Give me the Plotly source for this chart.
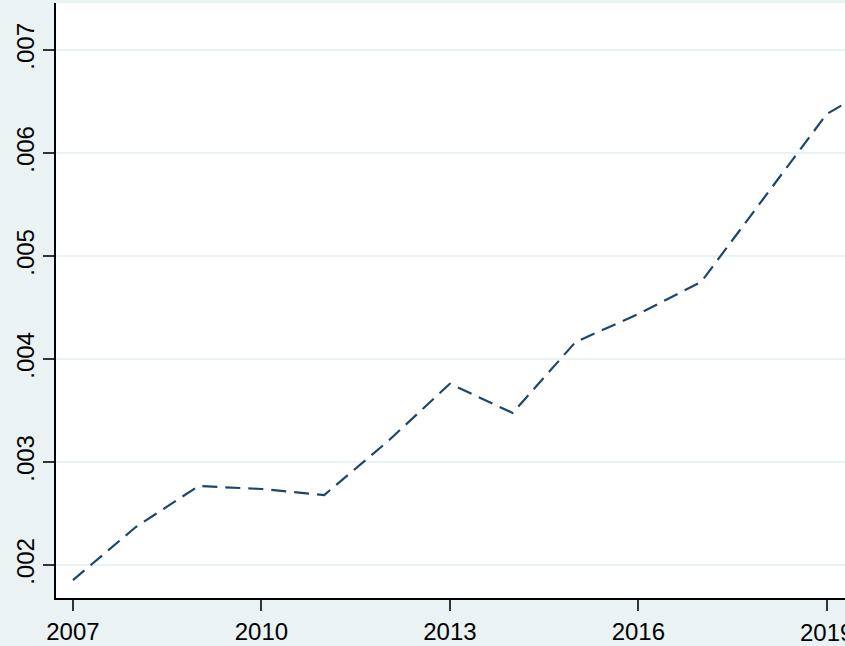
import plotly.graph_objects as go

years = [2007, 2008, 2009, 2010, 2011, 2012, 2013, 2014, 2015, 2016, 2017, 2018, 2019, 2020]
values = [0.001854, 0.002369, 0.002767, 0.002738, 0.00268, 0.003194, 0.00376,
          0.003476, 0.004165, 0.004437, 0.004748, 0.005563, 0.006379, 0.00673]

x_ticks = [2007, 2010, 2013, 2016, 2019]
y_ticks = [0.002, 0.003, 0.004, 0.005, 0.006, 0.007]
y_labels = [".002", ".003", ".004", ".005", ".006", ".007"]

bg = "#eaf2f3"
fig = go.Figure()
fig.add_trace(go.Scatter(x=years, y=values, mode="lines",
                         line=dict(color="#1a476f", width=2.2, dash="15px,8px"),
                         showlegend=False))
fig.update_layout(
    width=845, height=646,
    margin=dict(l=56, r=0, t=3, b=48),
    paper_bgcolor=bg, plot_bgcolor="white",
    font=dict(family="Liberation Sans, Arial", size=24, color="black"),
)
fig.update_xaxes(range=[2006.73, 2019.29], tickvals=x_ticks, ticktext=[str(t) for t in x_ticks],
                 showgrid=False, zeroline=False, showline=True, linecolor="black", linewidth=1.5,
                 ticks="outside", ticklen=11, tickwidth=1.5, tickcolor="#333333")
fig.update_yaxes(range=[0.00168, 0.007456], tickvals=y_ticks, ticktext=y_labels, tickangle=-90,
                 showgrid=True, gridcolor=bg, gridwidth=1.5, zeroline=False,
                 showline=True, linecolor="black", linewidth=1.5,
                 ticks="outside", ticklen=11, tickwidth=1.5, tickcolor="#333333")
# last tick label overflows the right edge (plotly drops it), draw it as an annotation
fig.add_annotation(x=x_ticks[-1], xref="x", y=0, yref="paper", text=str(x_ticks[-1]),
                   showarrow=False, yanchor="top", xanchor="center", yshift=-19,
                   font=dict(family="Liberation Sans, Arial", size=24, color="black"))
fig.write_html("out.html", config={"displayModeBar": False},
               post_script="document.body.style.margin='0';document.body.style.overflow='hidden';")
